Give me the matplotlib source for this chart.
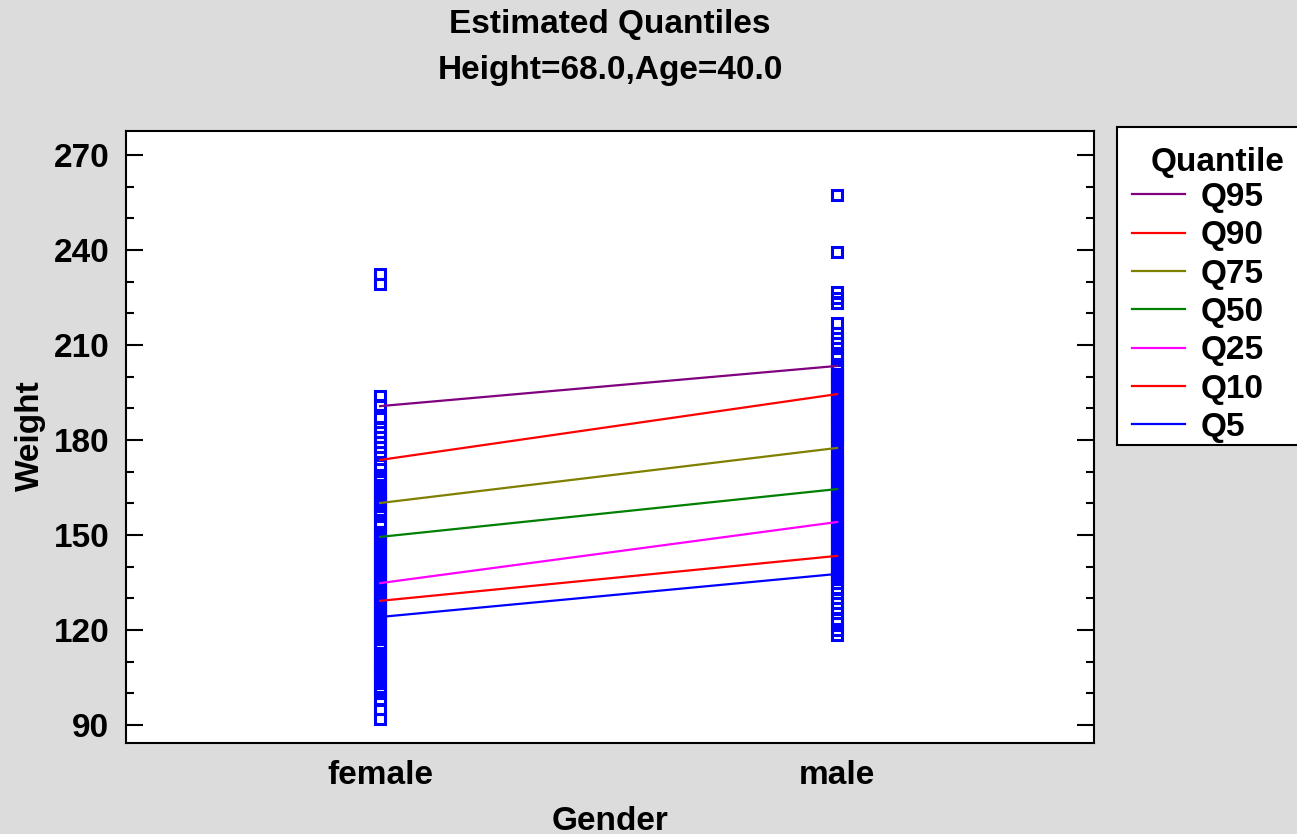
import matplotlib.pyplot as plt
from matplotlib.lines import Line2D
from matplotlib.patches import Rectangle

genders = ['female', 'male']

# observed weights by gender
female_weight = [92, 95, 98, 100, 101, 102, 104, 105, 106, 107, 108, 109, 110, 111,
                 112, 114, 115, 116, 117, 118, 119, 120, 121, 122, 123, 124, 125, 126,
                 127, 128, 129, 130, 131, 132, 133, 134, 135, 136, 137, 138, 139, 140,
                 141, 142, 143, 144, 145, 146, 147, 148, 149, 150, 151, 153, 154, 156,
                 157, 158, 159, 160, 161, 162, 163, 164, 165, 167, 168, 169, 171, 172,
                 176.2, 177.8, 179.4, 181, 182.5, 184, 187, 191, 194, 229.3, 232.4]
male_weight = [118.4, 120, 122.2, 123.5, 125.4, 127, 128.5, 130, 131.7, 133, 134.8, 136,
               137, 138, 139, 140, 141, 142, 143, 144, 145, 146, 147, 148, 149, 150,
               151, 152, 153, 154, 155, 156, 157, 158, 159, 160, 161, 162, 163, 164,
               165, 166, 167, 168, 169, 170, 171, 172, 173, 174, 175, 176, 178, 179,
               180, 181, 182, 183, 184, 185, 186, 187, 188, 189, 190, 191, 192, 193,
               194, 195, 196, 197, 198, 199, 200, 201, 202, 203, 204, 206, 207, 209,
               210.6, 212.2, 213.8, 217, 223.3, 224.8, 226.7, 239.4, 257.4]

# estimated quantiles (female, male)
quantile_names = ['Q95', 'Q90', 'Q75', 'Q50', 'Q25', 'Q10', 'Q5']
quantile_colors = ['#800080', '#ff0000', '#808000', '#008000', '#ff00ff', '#ff0000', '#0000ff']
q95 = [190.7, 203.4]
q90 = [173.7, 194.5]
q75 = [160.1, 177.5]
q50 = [149.4, 164.5]
q25 = [134.8, 154.1]
q10 = [129.2, 143.4]
q5 = [124.1, 137.7]
quantiles = [q95, q90, q75, q50, q25, q10, q5]

plt.rcParams['font.family'] = ['Liberation Sans', 'DejaVu Sans']
plt.rcParams['font.weight'] = 'bold'
fs = 24
bg = '#dcdcdc'
W, H = 1297, 834

fig = plt.figure(figsize=(W / 100, H / 100), dpi=100, facecolor=bg)
ax = fig.add_axes([126 / W, 1 - 743 / H, (1094 - 126) / W, (743 - 131) / H])
ax.set_facecolor('white')

ax.plot(['female'] * len(female_weight), female_weight, 's', ms=6.5, mfc='none',
        mec='#0000ff', mew=2.2, zorder=2)
ax.plot(['male'] * len(male_weight), male_weight, 's', ms=6.5, mfc='none',
        mec='#0000ff', mew=2.2, zorder=2)
for q, c in zip(quantiles, quantile_colors):
    ax.plot(genders, q, color=c, lw=1.6, zorder=3)

ax.set_xlim(-0.556, 1.562)
ax.set_ylim(84.3, 277.6)
ax.set_yticks(range(90, 271, 30))
ax.set_yticks(range(90, 271, 10), minor=True)
ax.tick_params(axis='y', which='both', direction='in', left=True, right=True,
               width=1.5, labelsize=fs, pad=12)
ax.tick_params(axis='y', which='major', length=12)
ax.tick_params(axis='y', which='minor', length=6)
ax.tick_params(axis='x', length=0, labelsize=fs, pad=12)
for s in ax.spines.values():
    s.set_linewidth(1.5)

fig.text(610 / W, 1 - 24 / H, 'Estimated Quantiles', ha='center', va='center',
         fontsize=fs, fontweight='bold')
fig.text(610 / W, 1 - 70 / H, 'Height=68.0,Age=40.0', ha='center', va='center',
         fontsize=fs, fontweight='bold')
fig.text(610 / W, 1 - 821 / H, 'Gender', ha='center', va='center', fontsize=fs,
         fontweight='bold')
fig.text(30 / W, 1 - 436 / H, 'Weight', ha='center', va='center', rotation=90,
         fontsize=fs, fontweight='bold')

# legend box, running off the right edge
fig.patches.append(Rectangle((1117 / W, 1 - 445 / H), 200 / W, (445 - 127) / H,
                             transform=fig.transFigure, facecolor='white',
                             edgecolor='black', lw=1.5, zorder=-1))
fig.text(1218 / W, 1 - 163 / H, 'Quantile', ha='center', va='center', fontsize=fs,
         fontweight='bold')
handles = [Line2D([], [], color=c, lw=1.6) for c in quantile_colors]
fig.legend(handles, quantile_names, loc='upper left', bbox_to_anchor=(1132 / W, 1 - 182 / H),
           bbox_transform=fig.transFigure, frameon=False, fontsize=fs, handlelength=1.6,
           handletextpad=0.45, labelspacing=0.22, borderpad=0, borderaxespad=0)

fig.savefig('out.png', dpi=100, facecolor=bg)
